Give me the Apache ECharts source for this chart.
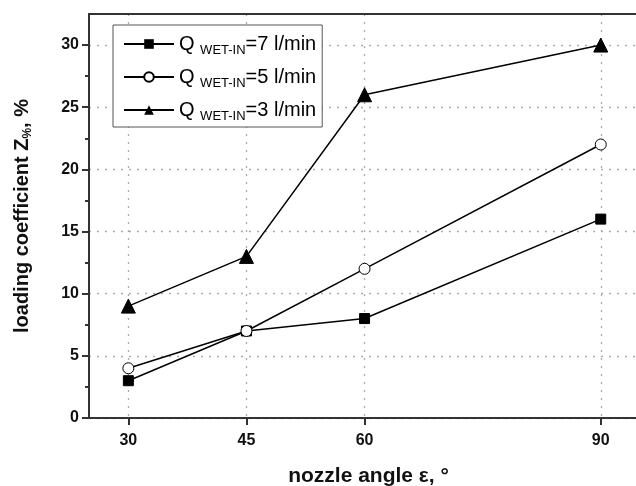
<!DOCTYPE html>
<html>
<head>
<meta charset="utf-8">
<script src="https://cdn.jsdelivr.net/npm/echarts@6/dist/echarts.min.js"></script>
<style>html,body{margin:0;padding:0;background:#fff}#c{width:636px;height:486px}</style>
</head>
<body>
<div id="c"></div>
<script>
// ---- data ----
var angles = [30, 45, 60, 90];
var q7 = [3, 7, 8, 16];
var q5 = [4, 7, 12, 22];
var q3 = [9, 13, 26, 30];
var seriesNames = ['Q7', 'Q5', 'Q3'];
var legendLabels = ['=7 l/min', '=5 l/min', '=3 l/min'];
var xTicks = [30, 45, 60, 90];
var yMajorTicks = [0, 5, 10, 15, 20, 25, 30];
var yMinorTicks = [2.5, 7.5, 12.5, 17.5, 22.5, 27.5];

function pairs(ys) { return angles.map(function (a, i) { return [a, ys[i]]; }); }

var FONT = 'Arial, "Liberation Sans", sans-serif';
var chart = echarts.init(document.getElementById('c'), null, { renderer: 'canvas' });

var lineStyle = { color: '#000', width: 1.5 };
var dotted = { color: '#aaa', type: [2, 6], width: 1.3 };

chart.setOption({
  animation: false,
  backgroundColor: '#fff',
  grid: { left: 89, top: 14, width: 559, height: 404, outerBoundsMode: 'none', containLabel: false, show: false },
  legend: {
    left: 113, top: 25,
    orient: 'vertical',
    padding: [6, 6, 4, 10],
    itemGap: 7,
    itemWidth: 50, itemHeight: 12,
    borderColor: '#555', borderWidth: 1,
    backgroundColor: '#fff',
    data: seriesNames,
    formatter: function (name) {
      var i = seriesNames.indexOf(name);
      return '{q|Q }{s|WET-IN}{q|' + legendLabels[i] + '}';
    },
    textStyle: {
      fontFamily: FONT,
      color: '#000',
      rich: {
        q: { fontSize: 20, lineHeight: 23, fontFamily: FONT, color: '#000' },
        s: { fontSize: 13, lineHeight: 13, padding: [13, 0, 0, 0], fontFamily: FONT, color: '#000' }
      }
    }
  },
  xAxis: [{
    type: 'value', min: 25, max: 96,
    name: 'nozzle angle ε, °', nameLocation: 'middle', nameGap: 48,
    nameTextStyle: { fontFamily: FONT, fontSize: 21, fontWeight: 'bold', color: '#111' },
    axisLine: { show: true, onZero: false, lineStyle: { color: '#333', width: 2 } },
    axisTick: { show: true, inside: false, length: 7, customValues: xTicks, lineStyle: { color: '#333', width: 2 } },
    axisLabel: { customValues: xTicks, margin: 15, fontFamily: FONT, fontSize: 16, fontWeight: 'bold', color: '#111' },
    splitLine: { show: true, lineStyle: dotted }
  }, {
    type: 'value', min: 25, max: 96, position: 'top',
    axisLine: { show: true, onZero: false, lineStyle: { color: '#333', width: 2 } },
    axisTick: { show: false }, axisLabel: { show: false }, splitLine: { show: false }
  }],
  yAxis: [{
    type: 'value', min: 0, max: 32.5,
    name: 'loading coefficient Z{s|%}, %', nameLocation: 'middle', nameGap: 55, nameRotate: 90,
    nameTextStyle: { fontFamily: FONT, fontSize: 20, fontWeight: 'bold', color: '#111',
      rich: { s: { fontFamily: FONT, fontSize: 12, fontWeight: 'bold', color: '#111', padding: [11, 0, 0, 0] } } },
    axisLine: { show: true, onZero: false, lineStyle: { color: '#333', width: 2 } },
    axisTick: { show: true, inside: false, length: 7, customValues: yMajorTicks, lineStyle: { color: '#333', width: 2 } },
    axisLabel: { customValues: yMajorTicks, margin: 10, fontFamily: FONT, fontSize: 16, fontWeight: 'bold', color: '#111' },
    splitLine: { show: true, lineStyle: dotted }
  }, {
    type: 'value', min: 0, max: 32.5, position: 'left', offset: 0,
    axisLine: { show: false },
    axisTick: { show: true, inside: false, length: 4, customValues: yMinorTicks, lineStyle: { color: '#333', width: 2 } },
    axisLabel: { show: false },
    splitLine: { show: false }
  }],
  series: [{
    name: seriesNames[0], type: 'line', data: pairs(q7),
    symbol: 'rect', symbolSize: 10, showSymbol: true,
    lineStyle: lineStyle, itemStyle: { color: '#000', borderColor: '#000' }, z: 3
  }, {
    name: seriesNames[1], type: 'line', data: pairs(q5),
    symbol: 'circle', symbolSize: 11, showSymbol: true,
    lineStyle: lineStyle, itemStyle: { color: '#fff', borderColor: '#000', borderWidth: 1 }, z: 4
  }, {
    name: seriesNames[2], type: 'line', data: pairs(q3),
    symbol: 'triangle', symbolSize: 14, showSymbol: true,
    lineStyle: lineStyle, itemStyle: { color: '#000', borderColor: '#000' }, z: 3
  }]
});
</script>
</body>
</html>
